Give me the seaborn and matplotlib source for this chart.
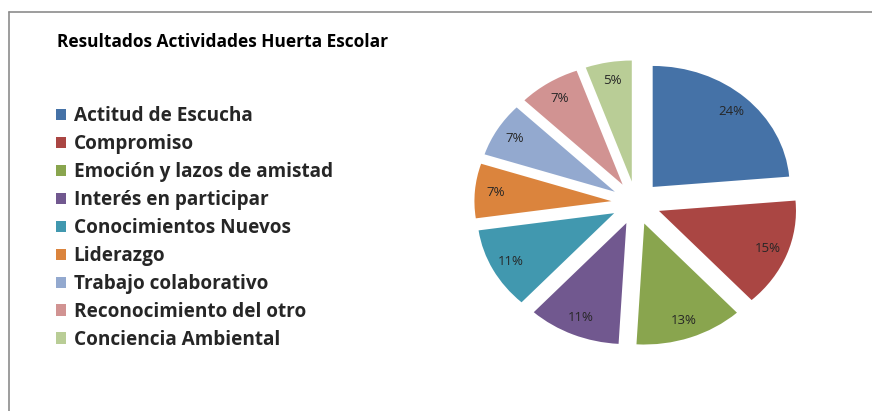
"""Exploded pie of school garden activity results."""

import matplotlib.pyplot as plt
import seaborn as sns
from matplotlib.lines import Line2D

categories = [
    "Actitud de Escucha",
    "Compromiso",
    "Emoción y lazos de amistad",
    "Interés en participar",
    "Conocimientos Nuevos",
    "Liderazgo",
    "Trabajo colaborativo",
    "Reconocimiento del otro",
    "Conciencia Ambiental",
]
# response counts (55 total); labels show rounded shares
counts = [13, 8, 7, 6, 6, 4, 4, 4, 3]
slice_colors = [
    "#4572A7", "#AA4643", "#89A54E", "#71588F", "#4198AF",
    "#DB843D", "#93A9CF", "#D19392", "#B9CD96",
]
title = "Resultados Actividades Huerta Escolar"

sns.set_theme(style="white")
plt.rcParams["font.family"] = ["Open Sans", "DejaVu Sans"]

W, H = 872, 411
fig = plt.figure(figsize=(W / 100, H / 100), dpi=100)

# pie axes placed in pixel units (pie is slightly wider than tall)
cx, cy, rx, ry, lim = 636, 203, 137, 121, 1.25
ax = fig.add_axes([
    (cx - lim * rx) / W,
    1 - (cy + lim * ry) / H,
    2 * lim * rx / W,
    2 * lim * ry / H,
])
palette = sns.color_palette(slice_colors)
wedges, _, autotexts = ax.pie(
    counts,
    colors=palette,
    explode=[0.18] * len(counts),
    startangle=90,
    counterclock=False,
    autopct=lambda p: f"{round(p)}%",
    pctdistance=0.85,
    wedgeprops={"linewidth": 0},
    textprops={"fontsize": 9.5, "color": "#262626"},
)
ax.set_aspect("auto")
ax.set_xlim(-lim, lim)
ax.set_ylim(-lim, lim)

fig.text(57 / W, 1 - 42 / H, title, fontsize=12.5, fontweight="bold",
         va="center", ha="left", color="#000000")

fig.legend(
    wedges,
    categories,
    loc="upper left",
    bbox_to_anchor=(46 / W, 1 - 96.5 / H),
    frameon=False,
    prop={"weight": "bold", "size": 13.7},
    handlelength=0.55,
    handleheight=0.55,
    handletextpad=0.4,
    labelspacing=0.42,
    borderpad=0,
)

# outer chart border (top and left edges visible)
border = "#8c8c8c"
fig.add_artist(Line2D([9 / W, 1], [1 - 12 / H, 1 - 12 / H], color=border, lw=1.2))
fig.add_artist(Line2D([9 / W, 9 / W], [0, 1 - 12 / H], color=border, lw=1.2))

fig.savefig("out.png", dpi=100)
